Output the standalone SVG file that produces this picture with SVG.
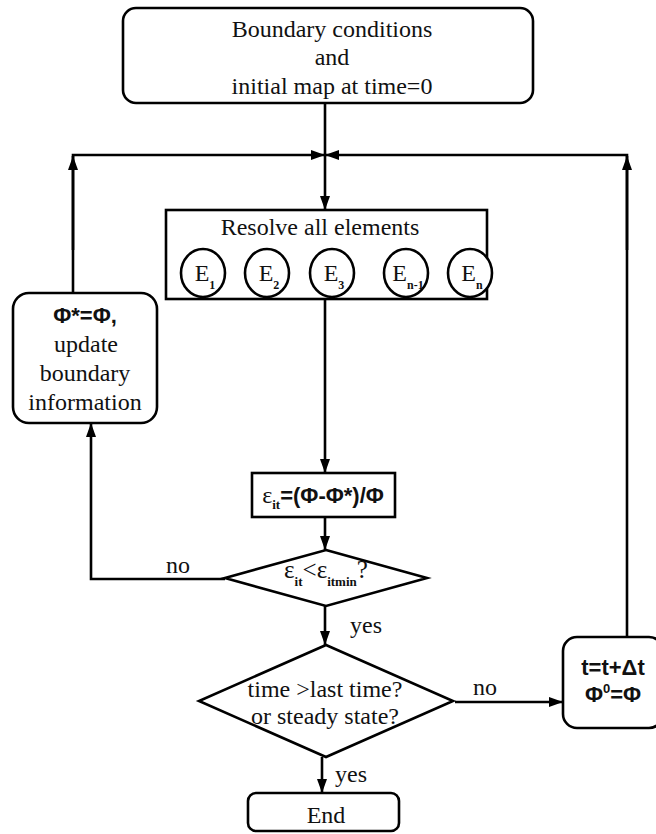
<svg xmlns="http://www.w3.org/2000/svg" width="656" height="834" viewBox="0 0 656 834">
<style>
.box{fill:#fff;stroke:#000;stroke-width:2.6}
.ln{fill:none;stroke:#000;stroke-width:2.6}
.t{font-size:24px;fill:#111;text-anchor:middle}
.b{font-weight:bold;font-size:22px}
.sub{font-size:12px;font-weight:bold}
</style>
<defs>
<marker id="ah" viewBox="0 0 14 10" refX="14" refY="5" markerWidth="14" markerHeight="10" markerUnits="userSpaceOnUse" orient="auto">
<path d="M0,0 L14,5 L0,10 Z" fill="#000"/>
</marker>
</defs>
<rect width="656" height="834" fill="#fff"/>
<g id="connectors">
<line class="ln" x1="325" y1="103" x2="325" y2="155"/>
<line class="ln" x1="325" y1="155" x2="325" y2="210" marker-end="url(#ah)"/>
<polyline class="ln" points="73,293 73,155 325,155" marker-end="url(#ah)"/>
<line class="ln" x1="73" y1="250" x2="73" y2="156" marker-end="url(#ah)"/>
<polyline class="ln" points="627,637 627,155 325,155" marker-end="url(#ah)"/>
<line class="ln" x1="627" y1="250" x2="627" y2="156" marker-end="url(#ah)"/>
<line class="ln" x1="325" y1="299" x2="325" y2="473" marker-end="url(#ah)"/>
<line class="ln" x1="325" y1="517" x2="325" y2="550" marker-end="url(#ah)"/>
<polyline class="ln" points="225,579 91,579 91,423" marker-end="url(#ah)"/>
<line class="ln" x1="325" y1="606" x2="325" y2="645" marker-end="url(#ah)"/>
<line class="ln" x1="455" y1="702" x2="563" y2="702" marker-end="url(#ah)"/>
<line class="ln" x1="322" y1="757" x2="322" y2="793" marker-end="url(#ah)"/>
<text class="t" font-family="Liberation Serif, serif" x="178" y="573">no</text>
<text class="t" font-family="Liberation Serif, serif" x="366" y="633">yes</text>
<text class="t" font-family="Liberation Serif, serif" x="351" y="782">yes</text>
<text class="t" font-family="Liberation Serif, serif" x="485" y="695">no</text>
</g>
<g id="start">
<rect class="box" x="123" y="8" width="410" height="95" rx="13"/>
<text class="t" font-family="Liberation Serif, serif" x="332" y="37">Boundary conditions</text>
<text class="t" font-family="Liberation Serif, serif" x="332" y="65">and</text>
<text class="t" font-family="Liberation Serif, serif" x="332" y="94">initial map at time=0</text>
</g>
<g id="resolve">
<rect class="box" x="166" y="210" width="321" height="89"/>
<text class="t" font-family="Liberation Serif, serif" x="320" y="235">Resolve all elements</text>
<ellipse class="box" cx="203" cy="273" rx="22" ry="24"/>
<ellipse class="box" cx="267" cy="273" rx="22" ry="24"/>
<ellipse class="box" cx="332" cy="273" rx="22" ry="24"/>
<ellipse class="box" cx="406" cy="273" rx="22" ry="24"/>
<ellipse class="box" cx="470" cy="273" rx="22" ry="24"/>
<text class="t" font-family="Liberation Serif, serif" x="205" y="281">E<tspan class="sub" dy="8">1</tspan></text>
<text class="t" font-family="Liberation Serif, serif" x="269" y="281">E<tspan class="sub" dy="8">2</tspan></text>
<text class="t" font-family="Liberation Serif, serif" x="334" y="281">E<tspan class="sub" dy="8">3</tspan></text>
<text class="t" font-family="Liberation Serif, serif" x="408" y="281">E<tspan class="sub" dy="8">n-1</tspan></text>
<text class="t" font-family="Liberation Serif, serif" x="472" y="281">E<tspan class="sub" dy="8">n</tspan></text>
</g>
<g id="update">
<rect class="box" x="13" y="293" width="144" height="130" rx="16"/>
<text class="t b" font-family="Liberation Sans, sans-serif" x="85" y="323">Φ*=Φ,</text>
<text class="t" font-family="Liberation Serif, serif" x="86" y="352">update</text>
<text class="t" font-family="Liberation Serif, serif" x="85" y="381">boundary</text>
<text class="t" font-family="Liberation Serif, serif" x="85" y="410">information</text>
</g>
<g id="error">
<rect class="box" x="252" y="473" width="143" height="44"/>
<text class="t" font-family="Liberation Serif, serif" x="323" y="503">ε<tspan class="sub" dy="6" style="font-size:13px">it</tspan><tspan class="b" font-family="Liberation Sans, sans-serif" dy="-6">=(Φ-Φ*)/Φ</tspan></text>
</g>
<g id="check-error">
<polygon class="box" points="326,550 427,578 326,606 225,578"/>
<text class="t" font-family="Liberation Serif, serif" x="326" y="578" style="font-size:25px">ε<tspan class="sub" dy="8" style="font-size:13px">it</tspan><tspan dy="-8">&lt;ε</tspan><tspan class="sub" dy="8" style="font-size:13px">itmin</tspan><tspan dy="-8">?</tspan></text>
</g>
<g id="check-time">
<polygon class="box" points="326,645 453,701 326,757 199,701"/>
<text class="t" font-family="Liberation Serif, serif" x="325" y="697">time &gt;last time?</text>
<text class="t" font-family="Liberation Serif, serif" x="325" y="724">or steady state?</text>
</g>
<g id="advance">
<rect class="box" x="563" y="637" width="100" height="91" rx="14"/>
<text class="t b" font-family="Liberation Sans, sans-serif" x="613" y="675">t=t+Δt</text>
<text class="t b" font-family="Liberation Sans, sans-serif" x="613" y="702">Φ<tspan dy="-9" style="font-size:13px">0</tspan><tspan dy="9">=Φ</tspan></text>
</g>
<g id="end">
<rect class="box" x="248" y="793" width="151" height="38" rx="8"/>
<text class="t" font-family="Liberation Serif, serif" x="326" y="823">End</text>
</g>
</svg>
